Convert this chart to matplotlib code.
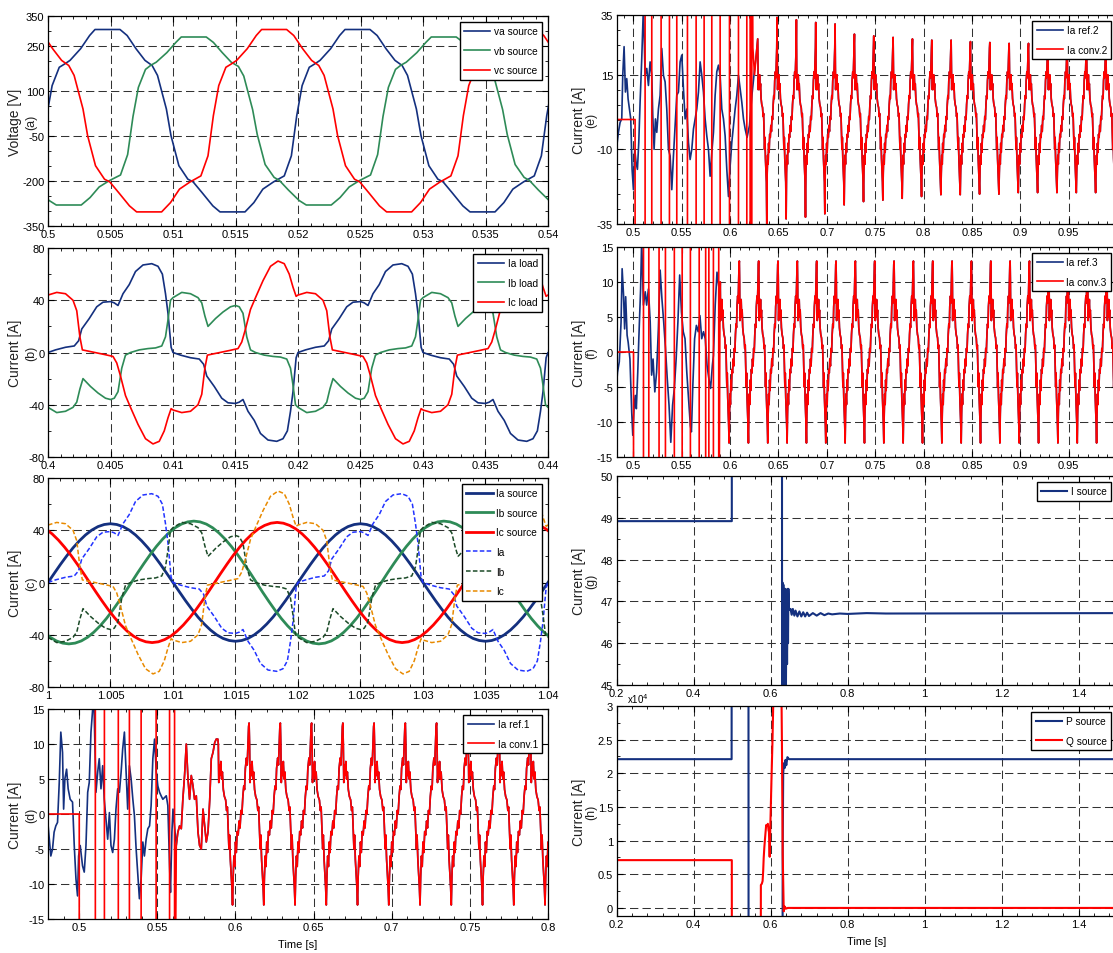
import numpy as np
import matplotlib
matplotlib.use("Agg")
import matplotlib.pyplot as plt
from matplotlib.ticker import AutoMinorLocator, MultipleLocator

plt.rcParams["font.family"] = ["Liberation Sans Narrow", "Liberation Sans", "DejaVu Sans"]
plt.rcParams["axes.linewidth"] = 0.9

NAVY = "#14307f"
GREEN = "#2e8b57"
RED = "#ff0000"
DASH_A = "#2233ff"
DASH_B = "#1b4a27"
DASH_C = "#e88a00"

# ---------------- (a) source voltages: one measured period, times in ms ----------------
VA_MS = [0, 0.43, 1.0, 1.43, 1.86, 2.71, 3.43, 3.86, 5.86, 6.43, 7.14, 7.86, 8.43, 8.86,
         9.57, 9.94, 10.57, 11.29, 11.71, 12.43, 13.29, 13.86, 15.86, 16.57, 17.29, 18.14,
         19.0, 19.57, 20.0]
VA_V = [18, 118, 179, 190, 202, 241, 285, 305, 305, 285, 241, 202, 185, 152, 40, -49, -149,
        -194, -203, -239, -283, -303, -303, -272, -227, -203, -183, -116, 18]
VB_V = [15, 112, 172, 186, 196, 228, 262, 280, 280, 262, 228, 196, 182, 150, 38, -45, -145,
        -188, -198, -230, -265, -280, -280, -255, -220, -198, -180, -112, 15]
VA_START, VB_START, VC_START = 0.4799, 0.4868, 0.49323

# ---------------- (b) load currents: half periods (odd symmetry), times in ms ----------------
IA_MS = [0, 0.6, 1.4, 2.1, 2.45, 2.7, 3.3, 3.9, 4.4, 5.0, 5.3, 5.6, 6.0, 6.5, 7.0, 7.6, 8.3,
         8.8, 9.15, 9.4, 9.6, 9.85, 10.0]
IA_V = [0, 2, 4, 5, 9, 18, 26, 35, 38.5, 39, 38, 36, 45, 52, 62, 67, 68, 66, 60, 45, 30, 4, 0]
IB_MS = [0, 0.7, 1.4, 2.0, 2.3, 2.55, 2.8, 3.4, 4.0, 4.6, 5.0, 5.3, 5.6, 5.9, 6.2, 6.6, 7.3,
         8.0, 8.6, 9.1, 9.4, 9.6, 9.8, 10.0]
IB_V = [-42, -46, -45, -42, -38, -28, -20, -26, -31, -35, -36, -35, -30, -12, -2, 0, 2, 3,
        3.5, 5, 12, 25, 40, 42]
IC_MS = [0, 0.7, 1.4, 2.0, 2.3, 2.55, 2.75, 3.5, 4.5, 5.2, 5.5, 5.8, 6.2, 6.6, 7.2, 7.8, 8.4,
         8.9, 9.3, 9.6, 9.85, 10.0]
IC_V = [44, 46, 45, 40, 32, 12, 2, 0.5, -1.5, -3, -8, -18, -33, -42, -55, -66, -70, -68,
        -60, -50, -43, -44]

# ---------------- (c) source currents: half periods sampled every 0.5 ms ----------------
SRC_MS = np.linspace(0, 10, 21)
IAS_V = [0, 7.0, 13.9, 20.4, 26.5, 31.8, 36.4, 40.1, 42.8, 44.4, 45, 44.4, 42.8, 40.1, 36.4,
         31.8, 26.5, 20.4, 13.9, 7.0, 0]
IBS_V = [0, 7.4, 14.5, 21.3, 27.6, 33.2, 38.0, 41.9, 44.7, 46.4, 47, 46.4, 44.7, 41.9, 38.0,
         33.2, 27.6, 21.3, 14.5, 7.4, 0]
ICS_V = [0, 7.2, 14.2, 20.9, 27.0, 32.5, 37.2, 41.0, 43.7, 45.4, 46, 45.4, 43.7, 41.0, 37.2,
         32.5, 27.0, 20.9, 14.2, 7.2, 0]

# ---------------- converter currents: one steady period, times in ms from the peak ----------------
CONV_MS = [0.0, 0.3, 0.6, 1.0, 1.4, 1.9, 2.4, 2.9, 3.5, 4.2, 5.0, 5.6, 6.1, 6.6, 7.1, 7.5, 8.0,
           8.6, 9.0, 9.4, 9.8, 10.3, 10.8, 11.3, 11.8, 12.4, 13.0, 13.6, 14.2, 14.8, 15.4,
           16.0, 16.6, 17.1, 17.6, 18.3, 18.8, 19.3, 19.7, 20.0]
CONV13_V = [13, 10, 4.5, 7, 5.5, 7.5, 5, 6, 3.5, 2.5, 2, 0.5, 1, -2, -5, -3, -6.5, -9, -10.5,
            -13, -9, -6, -7.5, -4, -5.5, -2.5, -3, -1, -2, 0.5, 0, 2.5, 4, 3.5, 6.5, 8, 7,
            10, 12.5, 13]
CONV26_V = [26, 18, 10, 14, 11, 15, 10, 12, 7, 5, 4, 1, 2, -4, -10, -6, -13, -18, -21, -25.5,
            -18, -12, -15, -8, -11, -5, -6, -2, -4, 1, 0, 5, 8, 7, 13, 16, 14, 20, 24, 26]
TROUGH_IDX = 19

# (d) Ia ref.1 / Ia conv.1
D_REF_T = [0.4801, 0.4818, 0.4829, 0.4839, 0.4850, 0.4861, 0.4872, 0.4882, 0.4893, 0.4900,
           0.4908, 0.4919, 0.4929, 0.4942, 0.4957, 0.4968, 0.4979, 0.4989, 0.4996, 0.5006,
           0.5021, 0.5032, 0.5043, 0.5054, 0.5064, 0.5075, 0.5086, 0.5092, 0.5107, 0.5118,
           0.5128, 0.5139, 0.5150, 0.5160, 0.5171, 0.5182, 0.5193, 0.5203, 0.5214, 0.5225,
           0.5235, 0.5246, 0.5257, 0.5268, 0.5278, 0.5289, 0.5300, 0.5310, 0.5321, 0.5332,
           0.5343, 0.5353, 0.5364, 0.5375, 0.5385, 0.5396, 0.5407, 0.5417, 0.5428, 0.5439,
           0.5450, 0.5460, 0.5471, 0.5482, 0.5493, 0.5503, 0.5514, 0.5524, 0.5535, 0.5557,
           0.5567, 0.5578, 0.5584, 0.5593, 0.5600]
D_REF_V = [-1.7, -6, -5, -2.6, -1.7, -1.2, 4.5, 11.7, 8.8, 0.7, 5, 6.4, 3.6, 2.1, 1.7, -4.5,
           -9.3, -11.7, -6, -4.5, -7.4, -8.3, -4.5, 3.1, 4.5, 11.7, 15, 18, 3.1, 6, 7.9, 3.6,
           6.9, 2.1, -0.7, -3.6, 0.2, -4.5, -5.5, -3.6, 0.7, 3.6, 3.1, 6, 9.3, 11.7, 6, 0.7,
           6.9, 5, 2.1, -0.2, -5, -8.8, -12.1, -9.3, -4, -6, -3.6, -2.1, -1.7, 1.2, 7.9, 10.7,
           6, 4, 3.1, 2.6, 2.1, 2.6, 1.2, -7.4, -11.2, -2.6, 0.7]
D_TR_T = [0.5621, 0.5631, 0.5642, 0.5653, 0.5663, 0.5674, 0.5685, 0.5696, 0.5706, 0.5717,
          0.5728, 0.5738, 0.5749, 0.5760, 0.5770, 0.5781, 0.5792, 0.5803, 0.5813, 0.5824,
          0.5835, 0.5845, 0.5856, 0.5867, 0.5877]
D_TR_V = [-4.5, -2.6, -1.7, -2.1, 2.1, 5.5, 10, 5, 2.1, 5.5, 4, 2.1, 2.6, -2.6, -4.5, -5, 0.7,
          -1.7, -4, -2.6, 2, 7.9, 8.8, 10.2, 10.7]
D_SWITCH_T = [0.5000, 0.5103, 0.5161, 0.5250, 0.5321, 0.5396, 0.5492, 0.5578, 0.5610]
D_STEADY_START = 0.5887
D_PEAKS = [10.7]

# (e) Ia ref.2 / Ia conv.2
E_REF_T = [0.48276, 0.48448, 0.48621, 0.48793, 0.48897, 0.49034, 0.49172, 0.49310, 0.49448,
           0.49586, 0.49724, 0.49862, 0.50000, 0.50138, 0.50276, 0.50414, 0.50552, 0.50690,
           0.50862, 0.51034, 0.51207, 0.51379, 0.51552, 0.51724, 0.51897, 0.52000, 0.52138,
           0.52276, 0.52414, 0.52586, 0.52759, 0.52931, 0.53103, 0.53276, 0.53448, 0.53621,
           0.53793, 0.53966, 0.54138, 0.54310, 0.54483, 0.54655, 0.54828, 0.55000, 0.55172,
           0.55345, 0.55517, 0.55690, 0.55862, 0.56034, 0.56207, 0.56379, 0.56552, 0.56724,
           0.56897, 0.57069, 0.57241, 0.57414, 0.57586, 0.57759, 0.57931, 0.58103, 0.58276,
           0.58448, 0.58621, 0.58793, 0.58966, 0.59138, 0.59310, 0.59483, 0.59655, 0.59828,
           0.60000, 0.60172, 0.60345, 0.60517, 0.60690, 0.60862, 0.61034, 0.61207, 0.61379,
           0.61552, 0.6175, 0.6200, 0.6225, 0.6250, 0.6268]
E_REF_V = [-9, -4.3, -1, 0.2, 14.8, 24.4, 9.2, 13.7, 6.9, 3.5, 0.2, -16.7, -23.5, -10, -14.5,
           -16.7, -7.7, 5.8, 20.5, 38, 14.8, 17.1, 11.4, 19.3, 14.8, 1.3, -10, 0.2, -4.3, 3.5,
           8.1, 23.8, 14.8, 12.6, 3.5, -10, -12.2, -23.5, -12.2, -2.1, 8.1, 9.2, 19.3, 21.6,
           10.3, 0.2, 3.5, -7.7, -13.4, -10, -3.2, 0.2, 3.5, 9.2, 19.3, 14.8, 9.2, 0.2, -5.5,
           -10, -19, -11.1, -4.3, 8.1, 16, 18.2, 14.8, 3.5, 0.2, -5.5, -16.7, -25.8, -15.6,
           -7.7, -2.1, 3.5, 8.1, 14.8, 10.3, 5.8, 0.2, -3.2, -6, -2, 8, 16, 21]
E_TR_T = [0.6235, 0.6252, 0.6268]
E_TR_V = [24, 15, 21]
E_SWITCH_T = [0.50172, 0.51207, 0.51897, 0.52862, 0.53724, 0.54483, 0.55586, 0.56483, 0.57310,
              0.58103, 0.58966, 0.59931, 0.60862, 0.61724, 0.62069, 0.62241]
E_STEADY_START = 0.6285
E_PEAKS = [27, 34.2, 33.4, 32.5, 32, 28.6, 28, 27.5, 27, 26.6, 26.6, 26.1, 25.8, 25.5, 25.5,
           25.5, 25.5, 25.5, 25.5, 25.5]
E_TROUGHS = [-35, -33.3, -32.7, -31.6, -28.6, -27.5, -27, -26.4, -25.8, -25.2, -25.2, -25,
             -25, -24.5, -24.5, -24.5, -24.5, -24.5, -24.5]

# (f) Ia ref.3 / Ia conv.3
F_REF_T = [0.48170, 0.48354, 0.48538, 0.48722, 0.48832, 0.48979, 0.49089, 0.49199, 0.49346,
           0.49456, 0.49640, 0.49824, 0.49934, 0.50081, 0.50191, 0.50301, 0.50448, 0.50558,
           0.50742, 0.50852, 0.51036, 0.51220, 0.51367, 0.51550, 0.51734, 0.51881, 0.52028,
           0.52212, 0.52395, 0.52579, 0.52763, 0.52946, 0.53130, 0.53314, 0.53497, 0.53681,
           0.53865, 0.54049, 0.54232, 0.54416, 0.54600, 0.54783, 0.54967, 0.55151, 0.55334,
           0.55518, 0.55702, 0.55885, 0.55996, 0.56143, 0.56326, 0.56510, 0.56694, 0.56877,
           0.57061, 0.57245, 0.57428, 0.57612, 0.57796, 0.57979, 0.58163, 0.58273, 0.58457,
           0.58641]
F_REF_V = [-6.2, -2.9, -1.4, 4.3, 11.9, 8.1, 3.3, 7.9, 2.4, 1.4, -1, -8.6, -11.9, -7.6, -6.2,
           -8.1, -2.9, 1.9, 9, 16, 6.7, 8.6, 6.7, 9, 4.3, -3.3, -1, -5.7, -2.9, 3.3, 11.7, 7.6,
           4.3, 0.5, -3.8, -7.6, -12.9, -7.6, -5.2, -1, 4.3, 11, 5.7, 2.9, 1.9, -2.9, -6.7,
           -10.5, -11.4, -4.8, 1.9, 3.8, 2.9, 5.2, 1.9, 2.9, 1.9, -1.9, -3.8, -5.2, -1.9,
           -0.5, 6.7, 11.4]
F_SWITCH_T = [0.5001, 0.5104, 0.5159, 0.5265, 0.5331, 0.5423, 0.5504, 0.5589, 0.5680, 0.5747,
              0.5780, 0.5827, 0.5882]
F_STEADY_START = 0.5895
F_PEAKS = [8]

# (g) source current magnitude
G_T = [0.2, 0.4995, 0.4996, 0.6298, 0.6300, 0.6312, 0.6322, 0.6334, 0.6346, 0.6358, 0.6370,
       0.6385, 0.6400, 0.6415, 0.6430, 0.6445, 0.6455, 0.6465, 0.6480, 0.652, 0.655, 0.658,
       0.662, 0.665, 0.670, 0.675, 0.680, 0.685, 0.690, 0.695, 0.700, 0.710, 0.720, 0.730,
       0.740, 0.750, 0.760, 0.780, 0.800, 0.850, 0.900, 1.5]
G_V = [48.92, 48.92, 55, 55, 44.5, 47.45, 44.5, 47.4, 44.5, 47.3, 44.6, 47.3, 44.8, 47.1,
       45.5, 47.3, 46.0, 47.3, 46.8, 46.82, 46.68, 46.82, 46.66, 46.78, 46.64, 46.76, 46.64,
       46.74, 46.64, 46.73, 46.65, 46.72, 46.66, 46.72, 46.67, 46.71, 46.69, 46.71, 46.7,
       46.72, 46.71, 46.72]

# (h) active / reactive power (x 10^4)
P_T = [0.2, 0.499, 0.4991, 0.5428, 0.5430, 0.6314, 0.6316, 0.6330, 0.6350, 0.6370, 0.6390,
       0.6410, 0.6440, 0.6480, 1.5]
P_V = [2.21, 2.21, 3.5, 3.5, -0.5, -0.5, 0.8, 2.0, 2.15, 2.08, 2.2, 2.12, 2.24, 2.21, 2.21]
Q_T = [0.2, 0.4995, 0.4996, 0.5748, 0.5750, 0.5775, 0.5795, 0.5810, 0.5823, 0.5840, 0.5859,
       0.5887, 0.5910, 0.5932, 0.5950, 0.5960, 0.5978, 0.5995, 0.6024, 0.6051, 0.6088,
       0.6280, 0.6298, 0.6316, 0.6344, 0.6370, 0.6400, 0.6450, 1.5]
Q_V = [0.71, 0.71, -0.5, -0.5, 0.34, 0.36, 0.40, 0.55, 0.74, 0.9, 1.04, 1.23, 1.22, 1.25,
       1.15, 1.13, 0.76, 1.2, 1.88, 2.47, 3.5, 3.5, 2.37, 0.83, -0.05, 0.02, -0.01, 0, 0]


# ---------------- helpers ----------------
def repeat_cycle(ms, vals, t_first, t_stop, period=0.02, peaks=(), troughs=(), i_trough=None):
    """Repeat one recorded period; optional per-cycle peak / trough values."""
    tt = np.asarray(ms, float) / 1000.0
    ts, vs = [], []
    k = 0
    while t_first + k * period <= t_stop:
        cyc = list(vals[:-1])
        if k < len(peaks):
            cyc[0] = peaks[k]
        if i_trough is not None and k < len(troughs):
            cyc[i_trough] = troughs[k]
        ts.extend(t_first + k * period + tt[:-1])
        vs.extend(cyc)
        k += 1
    ts.append(t_first + k * period)
    vs.append(peaks[k] if k < len(peaks) else vals[-1])
    return np.array(ts), np.array(vs)


def repeat_half(ms, vals, t_first, t_stop, half=0.01, sign=1):
    """Repeat a half period with alternating sign (half-wave symmetry)."""
    tt = np.asarray(ms, float) / 1000.0
    vv = np.asarray(vals, float)
    ts, vs = [], []
    k = 0
    while t_first + k * half <= t_stop:
        s = sign * (-1) ** k
        ts.extend(t_first + k * half + tt[:-1])
        vs.extend(s * vv[:-1])
        k += 1
    ts.append(t_first + k * half)
    vs.append(sign * (-1) ** k * vv[0])
    return np.array(ts), np.array(vs)


def switching(t_start, times, level):
    """Converter output before the controller locks: alternating off-scale swings."""
    ts, vs = [t_start], [0.0]
    prev, s = 0.0, -1
    for t in times:
        ts += [t, t]
        vs += [prev, s * level]
        prev = s * level
        s = -s
    return ts, vs


LABEL_FONT = ["Liberation Sans", "DejaVu Sans"]


def setup(ax, xlim, xticks, ylim, yticks, ylabel, tag, label_x, tag_x, yminor=None, xminor=5):
    ax.set_xlim(xlim)
    ax.set_ylim(ylim)
    ax.set_xticks(xticks)
    ax.set_xticklabels([f"{v:g}" for v in xticks])
    ax.set_yticks(yticks)
    ax.set_yticklabels([f"{v:g}" for v in yticks])
    ax.xaxis.set_minor_locator(AutoMinorLocator(xminor))
    if yminor:
        ax.yaxis.set_minor_locator(MultipleLocator(yminor))
    ax.set_axisbelow(True)
    ax.grid(True, which="major", color="#333333", ls=(0, (8, 4)), lw=0.75)
    ax.tick_params(which="both", direction="in", top=True, right=True, labelsize=8, pad=2.5)
    ax.tick_params(which="major", length=4, width=0.8)
    ax.tick_params(which="minor", length=2, width=0.6)
    ax.set_ylabel(ylabel, fontsize=10, family=LABEL_FONT, color="#222222")
    ax.yaxis.set_label_coords(label_x, 0.5)
    ax.text(tag_x, 0.5, tag, transform=ax.transAxes, rotation=90, ha="center", va="center",
            fontsize=9, family=LABEL_FONT, color="#222222")
    for sp in ax.spines.values():
        sp.set_color("black")


def legend(ax):
    leg = ax.legend(loc="upper right", fontsize=7.3, fancybox=False, framealpha=1,
                    edgecolor="black", borderpad=0.45, labelspacing=0.95, handlelength=2.6,
                    handletextpad=0.35, borderaxespad=0.55)
    leg.get_frame().set_linewidth(1.0)


W, H = 1113, 954


def rect(l, r, t, b):
    return [l / W, 1 - b / H, (r - l) / W, (b - t) / H]


fig = plt.figure(figsize=(W / 100, H / 100), dpi=100)
L0, L1 = 48, 548
R0, R1 = 616.5, 1117
LAB_L, TAG_L = -0.052, -0.033
LAB_R, TAG_R = -0.061, -0.050

# ---- (a)
ax = fig.add_axes(rect(L0, L1, 17, 227))
for ms, v, t0, c, lab in [(VA_MS, VA_V, VA_START, NAVY, "va source"),
                          (VA_MS, VB_V, VB_START, GREEN, "vb source"),
                          (VA_MS, VA_V, VC_START, RED, "vc source")]:
    t, y = repeat_cycle(ms, v, t0, 0.545)
    ax.plot(t, y, color=c, lw=1.2, label=lab)
setup(ax, (0.5, 0.54), np.round(np.arange(0.5, 0.5401, 0.005), 3), (-350, 350),
      [-350, -200, -50, 100, 250, 350], "Voltage [V]", "(a)", LAB_L, TAG_L, yminor=50)
legend(ax)

# ---- (b)
ax = fig.add_axes(rect(L0, L1, 249, 458))
for ms, v, c, lab in [(IA_MS, IA_V, NAVY, "Ia load"), (IB_MS, IB_V, GREEN, "Ib load"),
                      (IC_MS, IC_V, RED, "Ic load")]:
    t, y = repeat_half(ms, v, 0.4, 0.445)
    ax.plot(t, y, color=c, lw=1.2, label=lab)
setup(ax, (0.4, 0.44), np.round(np.arange(0.4, 0.4401, 0.005), 3), (-80, 80),
      [-80, -40, 0, 40, 80], "Current [A]", "(b)", LAB_L, TAG_L, yminor=20)
legend(ax)

# ---- (c)
ax = fig.add_axes(rect(L0, L1, 479, 688))
for v, t0, sg, c, lab in [(IAS_V, 1.0, 1, NAVY, "Ia source"),
                          (IBS_V, 0.99667, -1, GREEN, "Ib source"),
                          (ICS_V, 0.99333, 1, RED, "Ic source")]:
    t, y = repeat_half(SRC_MS, v, t0, 1.045, sign=sg)
    ax.plot(t, y, color=c, lw=2.0, label=lab)
for ms, v, c, lab in [(IA_MS, IA_V, DASH_A, "Ia"), (IB_MS, IB_V, DASH_B, "Ib"),
                      (IC_MS, IC_V, DASH_C, "Ic")]:
    t, y = repeat_half(ms, v, 1.0, 1.045)
    ax.plot(t, y, color=c, lw=1.1, ls=(0, (3, 1.5)), label=lab)
setup(ax, (1.0, 1.04), np.round(np.arange(1.0, 1.0401, 0.005), 3), (-80, 80),
      [-80, -40, 0, 40, 80], "Current [A]", "(c)", LAB_L, TAG_L, yminor=20)
legend(ax)

# ---- (d)
ax = fig.add_axes(rect(L0, L1, 710, 920))
ts, ys = repeat_cycle(CONV_MS, CONV13_V, D_STEADY_START, 0.81, peaks=D_PEAKS)
ax.plot(np.r_[D_REF_T, D_TR_T, ts], np.r_[D_REF_V, D_TR_V, ys], color=NAVY, lw=1.2,
        label="Ia ref.1")
sw_t, sw_v = switching(0.48, D_SWITCH_T, 40)
ax.plot(np.r_[sw_t, D_TR_T, ts], np.r_[sw_v, D_TR_V, ys], color=RED, lw=1.2,
        label="Ia conv.1")
setup(ax, (0.48, 0.8), np.round(np.arange(0.5, 0.8001, 0.05), 2), (-15, 15),
      [-15, -10, -5, 0, 5, 10, 15], "Current [A]", "(d)", LAB_L, TAG_L)
ax.set_xlabel("Time [s]", fontsize=8, labelpad=5)
legend(ax)

# ---- (e)
ax = fig.add_axes(rect(R0, R1, 16, 225))
ts, ys = repeat_cycle(CONV_MS, CONV26_V, E_STEADY_START, 1.01, peaks=E_PEAKS,
                      troughs=E_TROUGHS, i_trough=TROUGH_IDX)
ax.plot(np.r_[E_REF_T, ts], np.r_[E_REF_V, ys], color=NAVY, lw=1.2, label="Ia ref.2")
sw_t, sw_v = switching(0.482, E_SWITCH_T, 100)
ax.plot(np.r_[sw_t, E_TR_T, ts], np.r_[sw_v, E_TR_V, ys], color=RED, lw=1.2,
        label="Ia conv.2")
setup(ax, (0.4825, 1.0), np.round(np.arange(0.5, 0.9501, 0.05), 2), (-35, 35),
      [-35, -10, 15, 35], "Current [A]", "(e)", LAB_R, TAG_R, yminor=5)
legend(ax)

# ---- (f)
ax = fig.add_axes(rect(R0, R1, 248, 458))
ts, ys = repeat_cycle(CONV_MS, CONV13_V, F_STEADY_START, 1.01, peaks=F_PEAKS)
ax.plot(np.r_[F_REF_T, ts], np.r_[F_REF_V, ys], color=NAVY, lw=1.2, label="Ia ref.3")
sw_t, sw_v = switching(0.482, F_SWITCH_T, 40)
ax.plot(np.r_[sw_t, ts], np.r_[sw_v, ys], color=RED, lw=1.2, label="Ia conv.3")
setup(ax, (0.4825, 1.0), np.round(np.arange(0.5, 0.9501, 0.05), 2), (-15, 15),
      [-15, -10, -5, 0, 5, 10, 15], "Current [A]", "(f)", LAB_R, TAG_R)
legend(ax)

# ---- (g)
ax = fig.add_axes(rect(R0, R1, 477, 686))
ax.plot(G_T, G_V, color=NAVY, lw=1.5, label="I source")
setup(ax, (0.2, 1.5), np.round(np.arange(0.2, 1.401, 0.2), 1), (45, 50),
      [45, 46, 47, 48, 49, 50], "Current [A]", "(g)", LAB_R, TAG_R, yminor=0.5)
legend(ax)

# ---- (h)
ax = fig.add_axes(rect(R0, R1, 707, 917))
ax.plot(P_T, P_V, color=NAVY, lw=1.5, label="P source")
ax.plot(Q_T, Q_V, color=RED, lw=1.5, label="Q source")
setup(ax, (0.2, 1.5), np.round(np.arange(0.2, 1.401, 0.2), 1), (-0.12, 3),
      [0, 0.5, 1, 1.5, 2, 2.5, 3], "Current [A]", "(h)", LAB_R, TAG_R, yminor=0.25)
ax.set_xlabel("Time [s]", fontsize=8, labelpad=5)
legend(ax)
fig.text(627 / W, 1 - 704 / H, r"x10$^{4}$", fontsize=7, ha="left", va="baseline")

fig.savefig("out.png", dpi=100)
